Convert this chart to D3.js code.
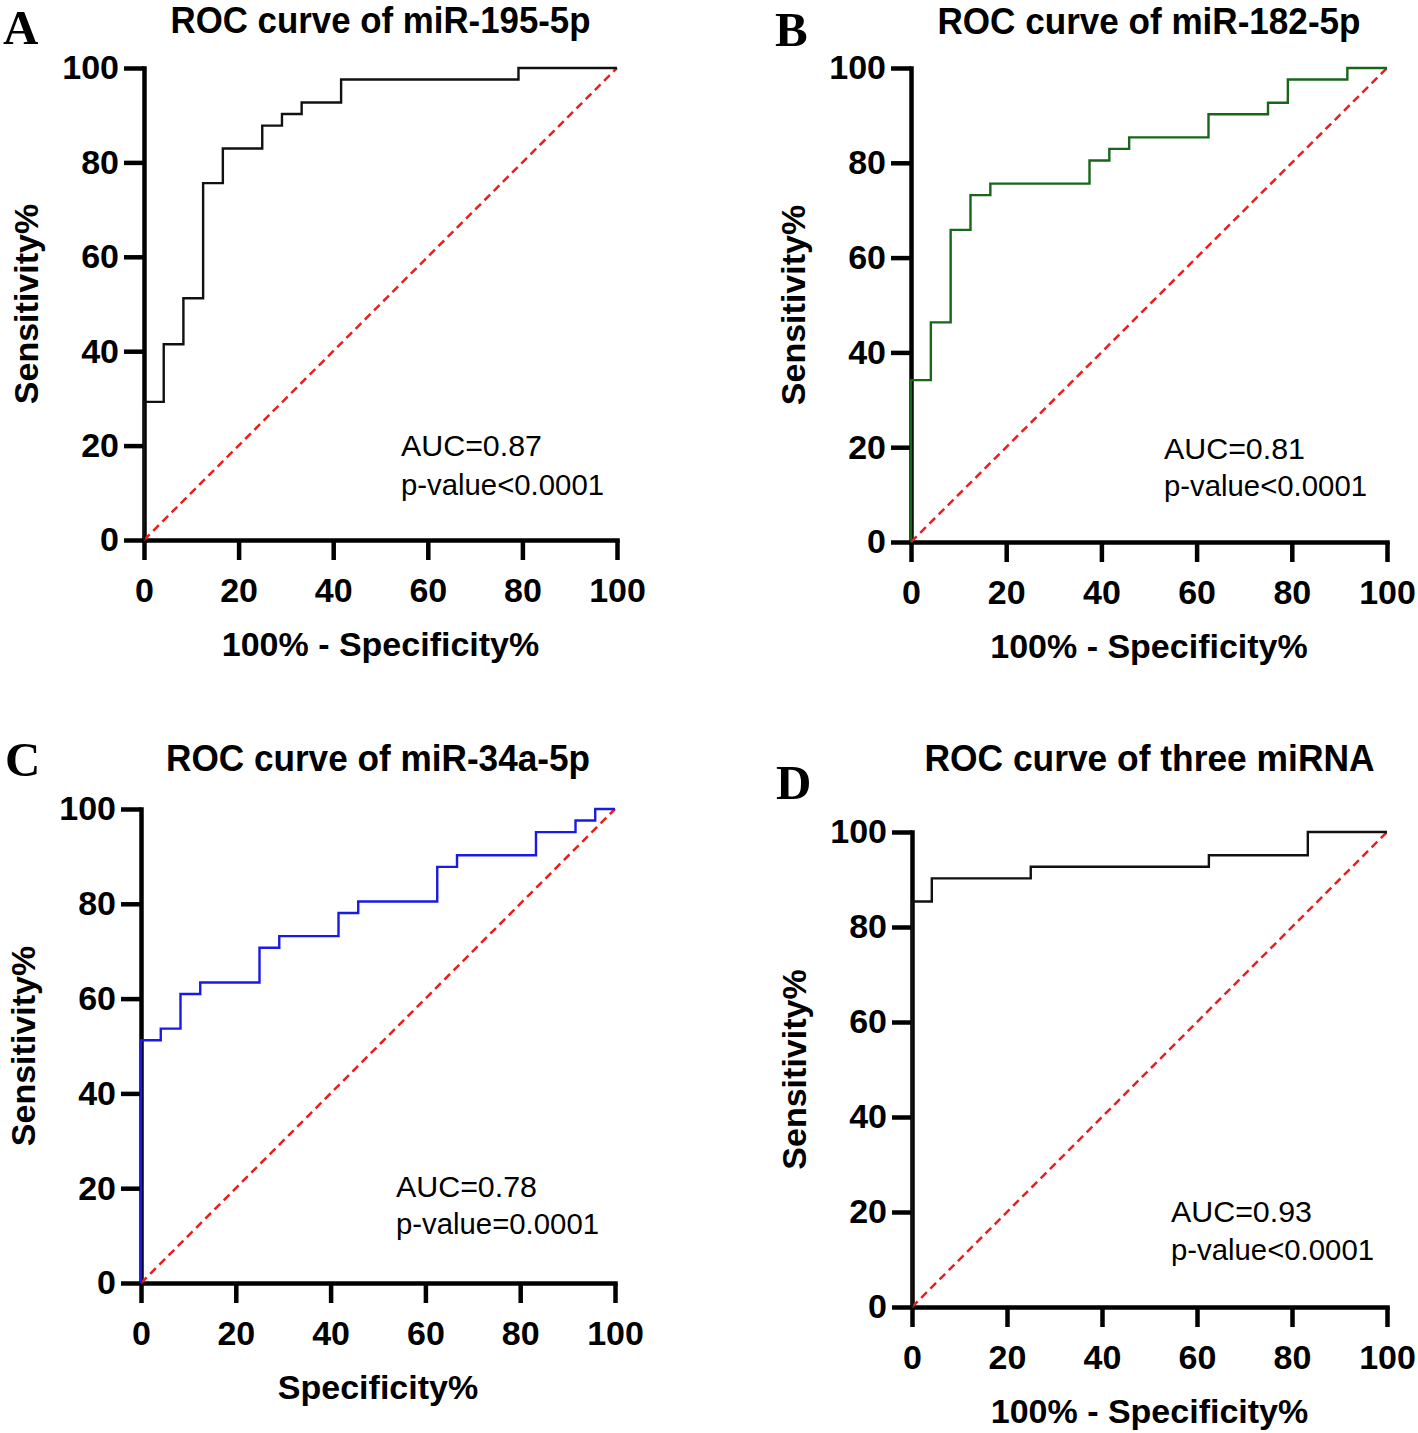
<!DOCTYPE html>
<html><head><meta charset="utf-8">
<script src="https://cdn.jsdelivr.net/npm/d3@7"></script>
<style>body{margin:0;background:#fff} svg{display:block}</style>
</head><body>
<svg id="c" width="1418" height="1433"></svg>
<script>
// ---------- data ----------
const xTicks = [0, 20, 40, 60, 80, 100];
const yTicks = [0, 20, 40, 60, 80, 100];
const panelLetters = ["A", "B", "C", "D"];
const panelTitles = ["ROC curve of miR-195-5p", "ROC curve of miR-182-5p", "ROC curve of miR-34a-5p", "ROC curve of three miRNA"];
const xAxisTitles = ["100% - Specificity%", "100% - Specificity%", "Specificity%", "100% - Specificity%"];
const yAxisTitle = "Sensitivity%";
const aucLabels = ["AUC=0.87", "AUC=0.81", "AUC=0.78", "AUC=0.93"];
const pLabels = ["p-value<0.0001", "p-value<0.0001", "p-value=0.0001", "p-value<0.0001"];

// ROC vertices (x = 100% - specificity %, y = sensitivity %)
const fprA  = [0, 0, 4.17, 8.33, 12.5, 16.67, 25, 29.17, 33.33, 41.67, 79.17, 100];
const sensA = [0, 29.27, 41.46, 51.22, 75.61, 82.93, 87.80, 90.24, 92.68, 97.56, 100, 100];

const fprB  = [0, 0, 4.17, 8.33, 12.5, 16.67, 37.5, 41.67, 45.83, 62.5, 75, 79.17, 91.67, 100];
const sensB = [0, 34.15, 46.34, 65.85, 73.17, 75.61, 80.49, 82.93, 85.37, 90.24, 92.68, 97.56, 100, 100];

const fprC  = [0, 0, 4.17, 8.33, 12.5, 25, 29.17, 41.67, 45.83, 62.5, 66.67, 83.33, 91.67, 95.83, 100];
const sensC = [0, 51.22, 53.66, 60.98, 63.41, 70.73, 73.17, 78.05, 80.49, 87.80, 90.24, 95.12, 97.56, 100, 100];

const fprD  = [0, 0, 4.17, 25, 62.5, 83.33, 100];
const sensD = [0, 85.37, 90.24, 92.68, 95.12, 100, 100];

const refX = [0, 100];
const refY = [0, 100];

const seriesX = [fprA, fprB, fprC, fprD];
const seriesY = [sensA, sensB, sensC, sensD];

// ---------- layout & style ----------
const layout = [
  {x0: 144, x1: 617, y0: 540, y1: 68, color: "#111111", lx: 3, ly: 44, ty: 33, tw: 420, ax: 401, ay: 456, py: 495},
  {x0: 911, x1: 1387, y0: 542, y1: 68, color: "#17661a", lx: 775, ly: 46, ty: 34, tw: 423, ax: 1164, ay: 459, py: 496},
  {x0: 141, x1: 615, y0: 1283, y1: 809, color: "#1a1ae6", lx: 5, ly: 776, ty: 771, tw: 424, ax: 396, ay: 1197, py: 1234},
  {x0: 912, x1: 1387, y0: 1307, y1: 832, color: "#111111", lx: 776, ly: 799, ty: 771, tw: 450, ax: 1171, ay: 1222, py: 1260}
];
const SANS = "'Liberation Sans', Arial, sans-serif";
const SERIF = "'Liberation Serif', 'Times New Roman', serif";

const svg = d3.select("#c");
svg.append("rect").attr("width", 1418).attr("height", 1433).attr("fill", "#fff");

layout.forEach((L, i) => {
  const x = d3.scaleLinear().domain([0, 100]).range([L.x0, L.x1]);
  const y = d3.scaleLinear().domain([0, 100]).range([L.y0, L.y1]);
  const g = svg.append("g");

  // panel letter
  g.append("text").attr("x", L.lx).attr("y", L.ly)
    .attr("font-family", SERIF).attr("font-weight", "bold").attr("font-size", 49)
    .attr("fill", "#000").text(panelLetters[i]);

  // title
  g.append("text").attr("x", (L.x0 + L.x1) / 2).attr("y", L.ty)
    .attr("text-anchor", "middle")
    .attr("font-family", SANS).attr("font-weight", "bold").attr("font-size", 37)
    .attr("textLength", L.tw).attr("lengthAdjust", "spacingAndGlyphs")
    .attr("fill", "#000").text(panelTitles[i]);

  // axes
  const xAxis = d3.axisBottom(x).tickValues(xTicks).tickSize(20).tickSizeOuter(0).tickPadding(18).tickFormat(d3.format("d"));
  const yAxis = d3.axisLeft(y).tickValues(yTicks).tickSize(20).tickSizeOuter(0).tickPadding(5).tickFormat(d3.format("d"));

  const gx = g.append("g").attr("transform", `translate(0,${L.y0})`).call(xAxis);
  const gy = g.append("g").attr("transform", `translate(${L.x0},0)`).call(yAxis);
  [gx, gy].forEach(a => {
    a.select(".domain").attr("stroke", "#000").attr("stroke-width", 4.5).attr("stroke-linecap", "square");
    a.selectAll(".tick line").attr("stroke", "#000").attr("stroke-width", 4.5);
    a.selectAll(".tick text").attr("font-family", SANS).attr("font-weight", "bold")
      .attr("font-size", 34).attr("fill", "#000");
  });

  // axis titles
  g.append("text").attr("x", (L.x0 + L.x1) / 2).attr("y", L.y0 + 116)
    .attr("text-anchor", "middle")
    .attr("font-family", SANS).attr("font-weight", "bold").attr("font-size", 34)
    .attr("fill", "#000").text(xAxisTitles[i]);
  g.append("text")
    .attr("transform", `translate(${L.x0 - 106},${(L.y0 + L.y1) / 2}) rotate(-90)`)
    .attr("text-anchor", "middle")
    .attr("font-family", SANS).attr("font-weight", "bold").attr("font-size", 34)
    .attr("fill", "#000").text(yAxisTitle);

  // reference diagonal
  const refLine = d3.line().x((d, k) => x(refX[k])).y((d, k) => y(refY[k]));
  g.append("path").attr("d", refLine(refX))
    .attr("fill", "none").attr("stroke", "#ee1c1c").attr("stroke-width", 2.5)
    .attr("stroke-dasharray", "8,5");

  // ROC step curve
  const xs = seriesX[i], ys = seriesY[i];
  const line = d3.line().x((d, k) => x(xs[k])).y((d, k) => y(ys[k])).curve(d3.curveStepAfter);
  g.append("path").attr("d", line(xs))
    .attr("fill", "none").attr("stroke", L.color).attr("stroke-width", 2.4);

  // annotations
  g.append("text").attr("x", L.ax).attr("y", L.ay)
    .attr("font-family", SANS).attr("font-size", 29)
    .attr("textLength", 141).attr("lengthAdjust", "spacingAndGlyphs")
    .attr("fill", "#000").text(aucLabels[i]);
  g.append("text").attr("x", L.ax).attr("y", L.py)
    .attr("font-family", SANS).attr("font-size", 29)
    .attr("textLength", 203).attr("lengthAdjust", "spacingAndGlyphs")
    .attr("fill", "#000").text(pLabels[i]);
});
</script>
</body></html>
